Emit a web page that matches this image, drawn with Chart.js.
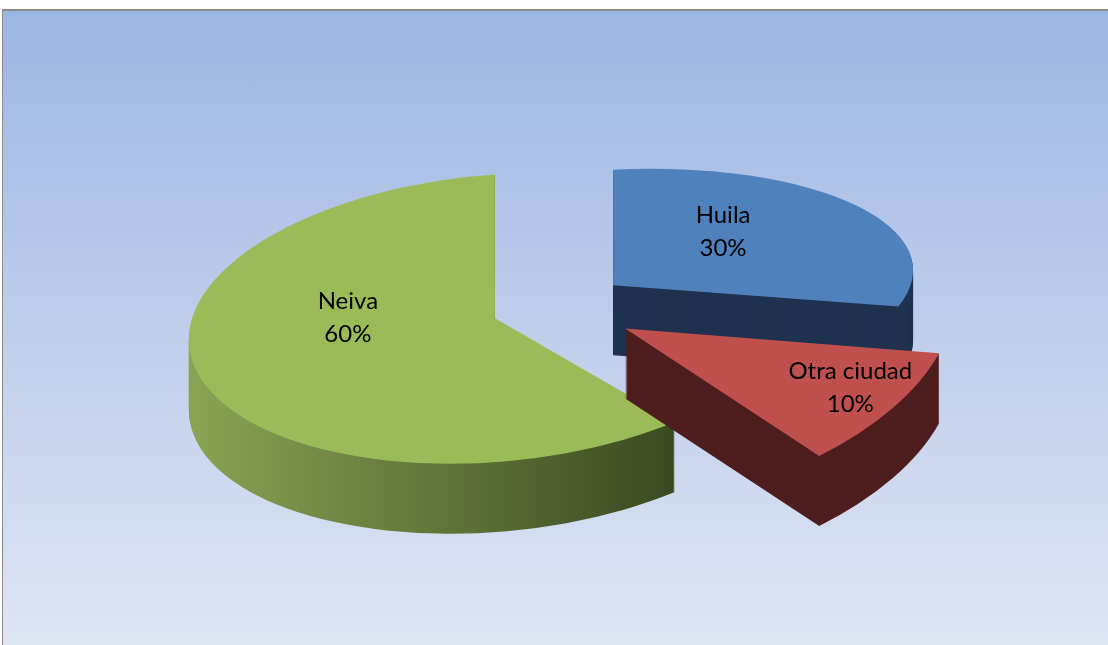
<!DOCTYPE html>
<html>
<head>
<meta charset="utf-8">
<script src="https://cdn.jsdelivr.net/npm/chart.js@4.4.0/dist/chart.umd.min.js"></script>
<style>
html,body{margin:0;padding:0;width:1108px;height:645px;overflow:hidden;background:#ffffff;}
#frame{position:absolute;left:2px;top:9px;width:1106px;height:636px;box-sizing:border-box;border-top:2px solid #8c8c8c;border-left:1px solid #8c8c8c;background:linear-gradient(to bottom,#9bb6e3 0%,#bccbea 45%,#dfe6f4 100%);}
#c{position:absolute;left:0;top:0;}
</style>
</head>
<body>
<div id="frame"></div>
<canvas id="c" width="1108" height="645"></canvas>
<script>
// ---- data ----
const categories = ['Huila', 'Otra ciudad', 'Neiva'];
const shares = [30, 10, 60];

// ---- styles ----
const topColors = ['#4f81bd', '#c0504d', '#9bbb59'];
const sideColors = ['#1f324f', '#4e1e1e', ['#8aa353', '#3a4820']];

const total = shares.reduce((a, b) => a + b, 0);

const pie3d = {
  id: 'pie3d',
  beforeDatasetsDraw(chart, args, o) {
    const ctx = chart.ctx;
    const arcs = chart.getDatasetMeta(0).data;
    const geo = arcs.map((arc, i) => {
      const mid = (arc.startAngle + arc.endAngle) / 2;
      const e = o.explode[i];
      const s = o.zoom[i];
      const k = o.tilt[i];
      const h = o.shear[i];
      const ex = Math.cos(mid) * e, ey = Math.sin(mid) * e;
      return {arc, i, mid, s, k, h,
        tx: arc.x + ex,
        ty: arc.y + h * ex + k * ey};
    });
    const place = (g, dy) => {
      ctx.translate(g.tx, g.ty + dy);
      ctx.transform(g.s, g.s * g.h, 0, g.s * g.k, 0, 0);
      ctx.translate(-g.arc.x, -g.arc.y);
    };
    const order = geo.slice().sort((a, b) => Math.sin(a.mid) - Math.sin(b.mid));
    order.forEach(g => {
      const arc = g.arc;
      const r = arc.outerRadius;
      const depth = o.depth;
      const sc = o.sideColors[g.i];
      let fill;
      if (Array.isArray(sc)) {
        fill = ctx.createLinearGradient(arc.x - r, 0, arc.x + r * 0.6, 0);
        fill.addColorStop(0, sc[0]);
        fill.addColorStop(1, sc[1]);
      } else {
        fill = sc;
      }
      for (let d = depth; d >= 1; d--) {
        ctx.save();
        place(g, d);
        ctx.beginPath();
        ctx.moveTo(arc.x, arc.y);
        ctx.arc(arc.x, arc.y, r, arc.startAngle, arc.endAngle);
        ctx.closePath();
        ctx.fillStyle = fill;
        ctx.fill();
        ctx.restore();
      }
      ctx.save();
      place(g, 0);
      arc.draw(ctx);
      ctx.restore();
    });
    ctx.save();
    ctx.font = o.font;
    ctx.fillStyle = '#000000';
    ctx.textAlign = 'center';
    ctx.textBaseline = 'middle';
    geo.forEach(g => {
      const f = o.labelFrac[g.i] * g.arc.outerRadius * g.s;
      const lx = Math.cos(g.mid) * f, ly = Math.sin(g.mid) * f;
      const x = g.tx + lx;
      const y = g.ty + g.h * lx + g.k * ly + o.labelLift[g.i];
      const pct = Math.round(shares[g.i] / total * 100) + '%';
      ctx.fillText(categories[g.i], x, y - o.lineHeight / 2);
      ctx.fillText(pct, x, y + o.lineHeight / 2);
    });
    ctx.restore();
    return false;
  }
};

new Chart(document.getElementById('c'), {
  type: 'pie',
  data: {
    labels: categories,
    datasets: [{
      data: shares,
      backgroundColor: topColors,
      borderWidth: 0,
      offset: 0
    }]
  },
  options: {
    responsive: false,
    devicePixelRatio: 1,
    animation: false,
    events: [],
    radius: 300,
    layout: {padding: {left: 0, right: 8, top: 0, bottom: 33}},
    plugins: {
      legend: {display: false},
      tooltip: {enabled: false},
      pie3d: {
        shear: [-0.05, -0.1, -0.07],
        tilt: [0.385, 0.55, 0.47],
        zoom: [1.0, 1.1, 1.02],
        explode: [78, 93, 58],
        depth: 70,
        sideColors: sideColors,
        labelFrac: [0.453, 0.843, 0.505],
        labelLift: [-17, -8, -33],
        font: '24px Lato',
        lineHeight: 33
      }
    }
  },
  plugins: [pie3d]
});
</script>
</body>
</html>
